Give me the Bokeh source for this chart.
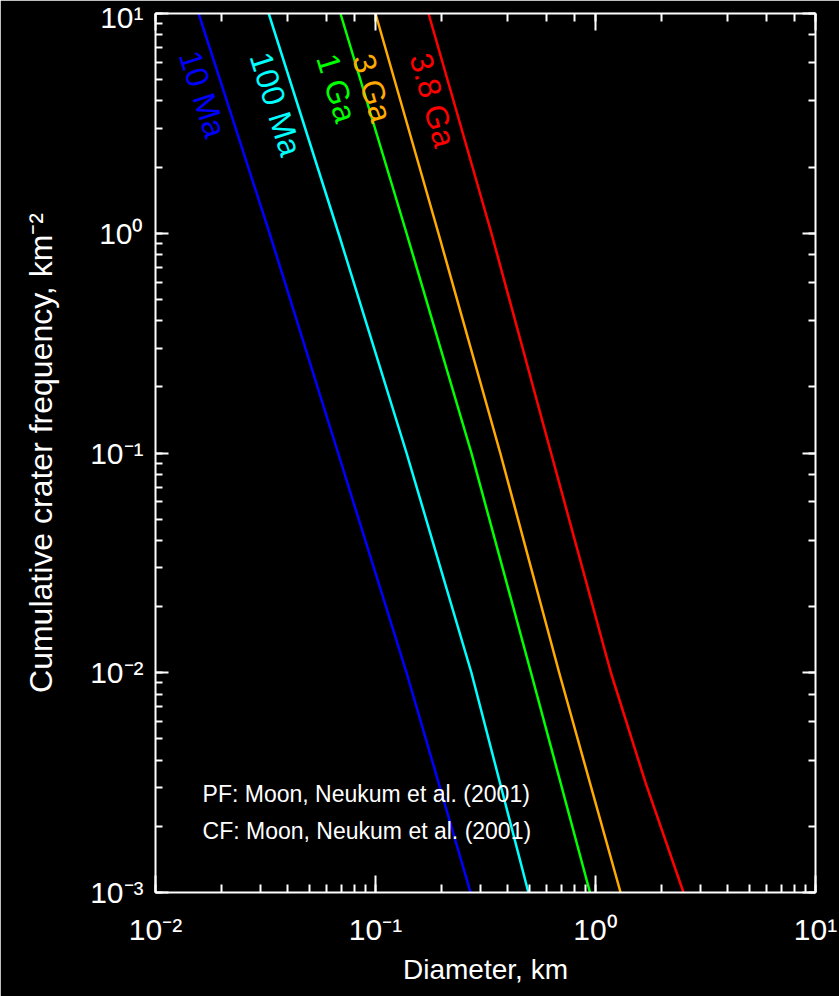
import math
from bokeh.plotting import figure
from bokeh.models import LogAxis, LogTicker, CustomJSTickFormatter
from bokeh.core.properties import value
from bokeh.embed import file_html
from bokeh.resources import INLINE

# ---- data (cumulative frequency levels, km^-2) ----
freq_levels = [10, 1, 0.1, 0.01, 0.001]
freq_levels_red = [10, 1, 0.1, 0.01, 0.00316, 0.001]

# diameters (km) at which each isochron crosses those levels
diam_10ma = [0.0157, 0.0330, 0.0676, 0.1384, 0.2704]
diam_100ma = [0.0327, 0.0679, 0.1384, 0.2729, 0.4955]
diam_1ga = [0.0693, 0.1384, 0.2729, 0.5093, 0.9441]
diam_3ga = [0.1000, 0.1932, 0.3690, 0.6839, 1.3000]
diam_3_8ga = [0.1742, 0.3365, 0.6281, 1.1750, 1.6880, 2.5120]

curve_names = ["10 Ma", "100 Ma", "1 Ga", "3 Ga", "3.8 Ga"]
curve_colors = ["#0000ff", "#00ffff", "#00ff00", "#ffaa00", "#ff0000"]

# label anchor points (diameter km, frequency) and rotation (deg)
label_x = [0.01640, 0.03520, 0.06653, 0.0968, 0.1820]
label_y = [4.30, 3.87, 4.58, 4.58, 4.03]
label_angle = [-72.0, -72.5, -73.0, -73.5, -74.5]

x_tick_exps = [-2, -1, 0, 1]
x_tick_labels = ["10\u207b\u00b2", "10\u207b\u00b9", "10\u2070", "10\u00b9"]
y_tick_exps = [-3, -2, -1, 0, 1]
y_tick_labels = ["10\u207b\u00b3", "10\u207b\u00b2", "10\u207b\u00b9", "10\u2070", "10\u00b9"]

notes = ["PF: Moon, Neukum et al. (2001)", "CF: Moon, Neukum et al. (2001)"]
notes_x = [0.01637, 0.01637]
notes_y = [0.00281, 0.00191]

FONT = "Liberation Sans"

p = figure(width=839, height=996, x_axis_type="log", y_axis_type="log",
           x_range=(0.01, 10), y_range=(0.001, 10),
           output_backend="svg", toolbar_location=None,
           background_fill_color="black", border_fill_color="black",
           min_border_left=155, min_border_right=24, min_border_top=13,
           min_border_bottom=104)
p.outline_line_color = None
p.grid.visible = False

fmt_code = """
const e = Math.round(Math.log10(tick));
const i = exps.indexOf(e);
return i >= 0 ? labels[i] : '';
"""
p.xaxis[0].formatter = CustomJSTickFormatter(args=dict(exps=x_tick_exps, labels=x_tick_labels), code=fmt_code)
p.yaxis[0].formatter = CustomJSTickFormatter(args=dict(exps=y_tick_exps, labels=y_tick_labels), code=fmt_code)

p.xaxis.axis_label = "Diameter, km"
p.yaxis.axis_label = "Cumulative crater frequency, km\u207b\u00b2"

def style_axis(ax, tmaj, tmin):
    ax.axis_line_color = "white"
    ax.axis_line_width = 2
    ax.major_tick_line_color = "white"
    ax.minor_tick_line_color = "white"
    ax.major_tick_line_width = 2
    ax.minor_tick_line_width = 2
    ax.major_tick_in = tmaj
    ax.major_tick_out = 0
    ax.minor_tick_in = tmin
    ax.minor_tick_out = 0
    ax.major_label_text_color = "white"
    ax.major_label_text_font = FONT
    ax.major_label_text_font_size = "30px"
    ax.axis_label_text_color = "white"
    ax.axis_label_text_font = FONT
    ax.axis_label_text_font_size = "28px"
    ax.axis_label_text_font_style = "normal"

style_axis(p.xaxis[0], 17, 8)
style_axis(p.yaxis[0], 13, 7)
p.yaxis[0].axis_label_text_font_size = "32px"
p.xaxis[0].major_label_standoff = 20
p.xaxis[0].axis_label_standoff = 5
p.yaxis[0].major_label_standoff = 12
p.yaxis[0].axis_label_standoff = 28

blank = CustomJSTickFormatter(code="return '';")
top = LogAxis(ticker=LogTicker(), formatter=blank, major_label_standoff=0)
right = LogAxis(ticker=LogTicker(), formatter=blank, major_label_standoff=0)
style_axis(top, 17, 8)
style_axis(right, 13, 7)
top.major_label_text_font_size = "1px"
right.major_label_text_font_size = "1px"
p.add_layout(top, "above")
p.add_layout(right, "right")

series = [diam_10ma, diam_100ma, diam_1ga, diam_3ga, diam_3_8ga]
for d, c in zip(series, curve_colors):
    ys = freq_levels_red if len(d) == len(freq_levels_red) else freq_levels
    p.line(x=d, y=ys, line_color=c, line_width=2.5, line_join="round")

for name, c, lx, ly, ang in zip(curve_names, curve_colors, label_x, label_y, label_angle):
    p.text(x=[lx], y=[ly], text=[name], angle=math.radians(ang),
           text_color=c, text_font=value(FONT), text_font_size="32px",
           text_align="center", text_baseline="middle")

p.text(x=notes_x, y=notes_y, text=notes, text_color="white",
       text_font=value(FONT), text_font_size="23px",
       text_align="left", text_baseline="middle")

open("out.html", "w").write(file_html(p, INLINE))
